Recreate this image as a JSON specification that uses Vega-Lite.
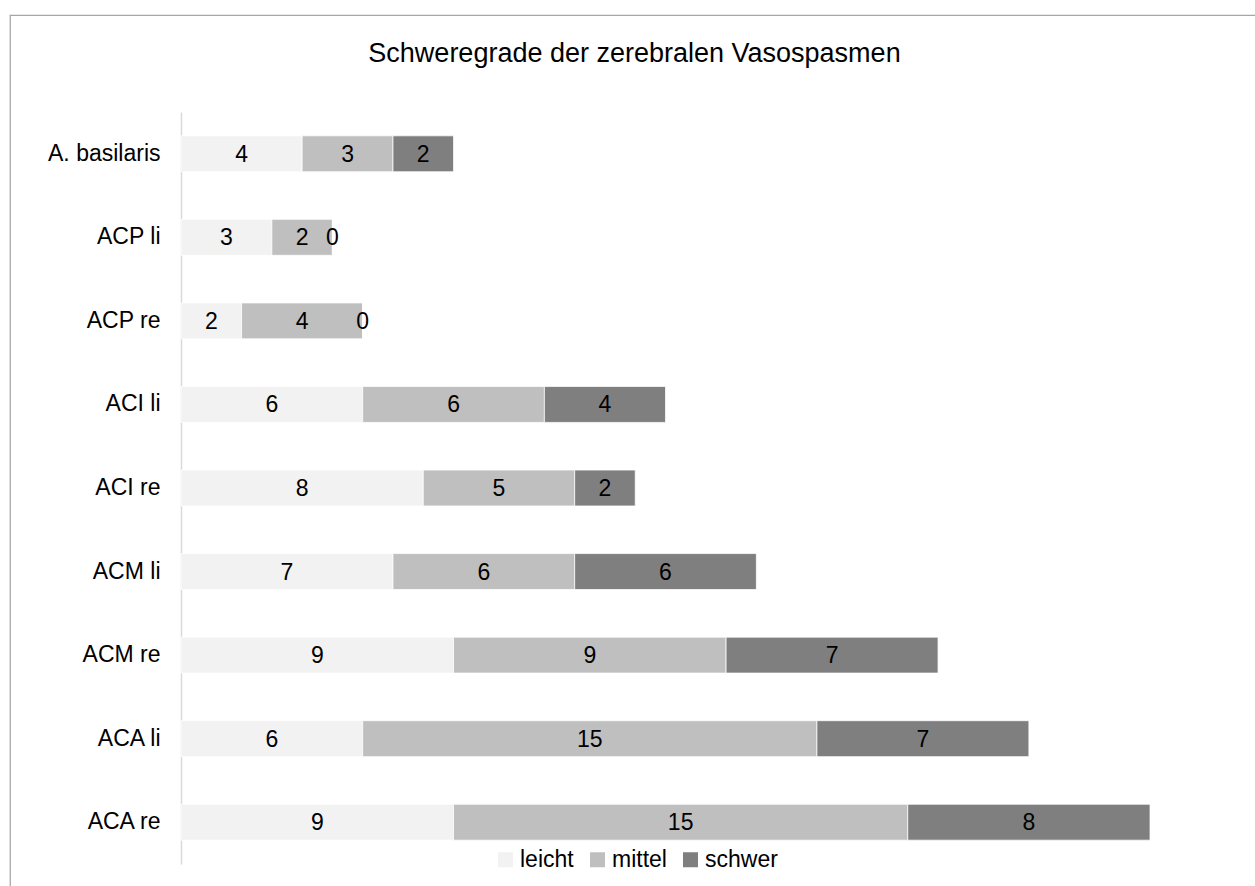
{
  "$schema": "https://vega.github.io/schema/vega-lite/v6.json",
  "autosize": {"type": "none"},
  "padding": {"left": 10, "top": 15, "right": 0, "bottom": 0},
  "width": 1249,
  "height": 875,
  "background": "white",
  "title": {
    "text": "Schweregrade der zerebralen Vasospasmen",
    "font": "Liberation Sans",
    "fontSize": 27,
    "fontWeight": "normal",
    "color": "#000000",
    "anchor": "middle",
    "baseline": "alphabetic",
    "offset": -46,
    "dy": 28
  },
  "config": {
    "view": {"stroke": "#A6A6A6", "strokeWidth": 1.25},
    "font": "Liberation Sans"
  },
  "data": {
    "values": [
      {"arterie": "A. basilaris", "grad": "leicht", "n": 4},
      {"arterie": "A. basilaris", "grad": "mittel", "n": 3},
      {"arterie": "A. basilaris", "grad": "schwer", "n": 2},
      {"arterie": "ACP li", "grad": "leicht", "n": 3},
      {"arterie": "ACP li", "grad": "mittel", "n": 2},
      {"arterie": "ACP li", "grad": "schwer", "n": 0},
      {"arterie": "ACP re", "grad": "leicht", "n": 2},
      {"arterie": "ACP re", "grad": "mittel", "n": 4},
      {"arterie": "ACP re", "grad": "schwer", "n": 0},
      {"arterie": "ACI li", "grad": "leicht", "n": 6},
      {"arterie": "ACI li", "grad": "mittel", "n": 6},
      {"arterie": "ACI li", "grad": "schwer", "n": 4},
      {"arterie": "ACI re", "grad": "leicht", "n": 8},
      {"arterie": "ACI re", "grad": "mittel", "n": 5},
      {"arterie": "ACI re", "grad": "schwer", "n": 2},
      {"arterie": "ACM li", "grad": "leicht", "n": 7},
      {"arterie": "ACM li", "grad": "mittel", "n": 6},
      {"arterie": "ACM li", "grad": "schwer", "n": 6},
      {"arterie": "ACM re", "grad": "leicht", "n": 9},
      {"arterie": "ACM re", "grad": "mittel", "n": 9},
      {"arterie": "ACM re", "grad": "schwer", "n": 7},
      {"arterie": "ACA li", "grad": "leicht", "n": 6},
      {"arterie": "ACA li", "grad": "mittel", "n": 15},
      {"arterie": "ACA li", "grad": "schwer", "n": 7},
      {"arterie": "ACA re", "grad": "leicht", "n": 9},
      {"arterie": "ACA re", "grad": "mittel", "n": 15},
      {"arterie": "ACA re", "grad": "schwer", "n": 8}
    ]
  },
  "encoding": {
    "y": {
      "field": "arterie",
      "type": "nominal",
      "sort": ["A. basilaris", "ACP li", "ACP re", "ACI li", "ACI re", "ACM li", "ACM re", "ACA li", "ACA re"],
      "scale": {"range": [97, 849], "paddingInner": 0.57, "paddingOuter": 0.285},
      "axis": {
        "title": null,
        "orient": "left",
        "offset": -171,
        "ticks": false,
        "labelPadding": 21,
        "labelFontSize": 23,
        "labelColor": "#000000",
        "labelFont": "Liberation Sans",
        "domainColor": "#D9D9D9",
        "domainWidth": 1.5,
        "grid": false
      }
    },
    "order": {"field": "grad", "type": "nominal", "sort": "ascending"}
  },
  "layer": [
    {
      "mark": {"type": "bar", "stroke": "white", "strokeWidth": 0.75},
      "encoding": {
        "x": {
          "field": "n",
          "type": "quantitative",
          "stack": "zero",
          "scale": {"domain": [0, 32], "range": [171, 1140], "nice": false},
          "axis": null
        },
        "color": {
          "field": "grad",
          "type": "nominal",
          "scale": {"domain": ["leicht", "mittel", "schwer"], "range": ["#F2F2F2", "#BFBFBF", "#7F7F7F"]},
          "legend": {
            "title": null,
            "orient": "none",
            "direction": "horizontal",
            "legendX": 484,
            "legendY": 833,
            "padding": 0,
            "symbolType": "square",
            "symbolSize": 225,
            "symbolStrokeWidth": 0,
            "labelFontSize": 23,
            "labelFont": "Liberation Sans",
            "labelColor": "#000000",
            "labelOffset": 3,
            "columnPadding": 12
          }
        }
      }
    },
    {
      "mark": {"type": "text", "fontSize": 23, "color": "#000000", "align": "center", "baseline": "middle", "font": "Liberation Sans", "dy": 1},
      "encoding": {
        "x": {"field": "n", "type": "quantitative", "stack": "zero", "bandPosition": 0.5},
        "detail": {"field": "grad", "type": "nominal"},
        "text": {"field": "n", "type": "quantitative"}
      }
    }
  ]
}
